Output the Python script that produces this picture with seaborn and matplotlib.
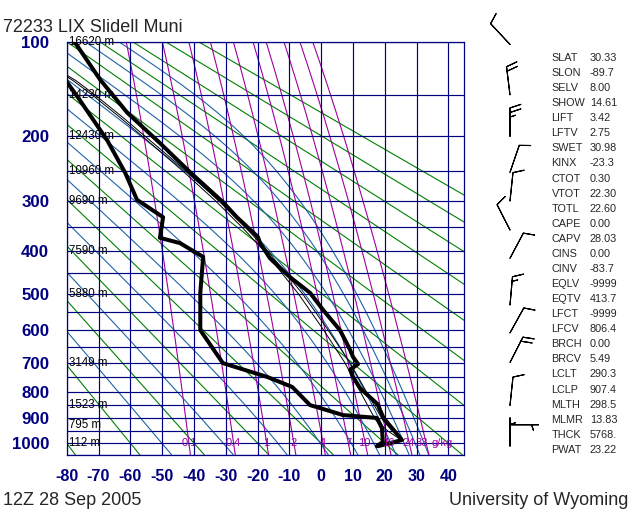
import numpy as np
import pandas as pd
import matplotlib
matplotlib.use("Agg")
import matplotlib.pyplot as plt
import seaborn as sns

# ------------------------------------------------------------------ data
station_title = "72233 LIX Slidell Muni"
obs_time = "12Z 28 Sep 2005"
source_text = "University of Wyoming"

temp_p = [1013, 987, 898, 845, 787, 748, 724, 705, 682, 660, 629, 600, 543, 498,
          459, 415, 382, 369, 330, 302, 252, 209, 170, 134, 100]
temp_T = [17.9, 25.4, 19.6, 17.7, 12.2, 10.0, 9.1, 11.6, 10.0, 9.1, 7.5, 5.9, 0.6, -3.5,
          -9.8, -16.1, -19.2, -19.9, -26.5, -30.9, -41.2, -50.7, -61.0, -69.5, -77.5]

dwpt_p = [1013, 995, 938, 898, 887, 860, 849, 783, 748, 702, 600, 498, 412, 382,
          371, 330, 298, 253, 205, 153, 134]
dwpt_T = [17.5, 19.4, 19.1, 17.5, 6.9, -0.4, -3.5, -9.1, -17.0, -30.9, -38.0, -38.0, -37.1, -44.4,
          -50.7, -49.7, -57.9, -61.6, -67.3, -76.4, -80.5]

parcel_p = [990, 950, 907, 850, 800, 700, 600, 500, 400, 350, 300, 250, 200, 175, 150, 135, 125]
parcel_T = [25.5, 21.0, 17.2, 14.6, 12.3, 7.4, 0.8, -7.2, -17.8, -24.8, -33.2, -43.5, -56.2,
            -63.5, -72.0, -78.0, -83.0]
parcel_tv_p = [990, 950, 907, 850, 800, 700, 600, 500, 400, 350, 300, 250, 200, 175, 150, 135, 125]
parcel_tv_T = [25.5, 22.4, 19.4, 16.7, 14.2, 9.0, 2.2, -5.9, -16.7, -23.8, -32.2, -42.5, -55.3,
               -62.6, -71.1, -77.1, -82.5]

height_p = [100, 150, 200, 250, 300, 400, 500, 700, 850, 925, 1000]
height_lbl = ["16620 m", "14230 m", "12430 m", "10960 m", "9690 m", "7590 m",
              "5880 m", "3149 m", "1523 m", "795 m", "112 m"]

pres_ticks = [100, 200, 300, 400, 500, 600, 700, 800, 900, 1000]
temp_ticks = [-80, -70, -60, -50, -40, -30, -20, -10, 0, 10, 20, 30, 40]

mixr_values = [0.1, 0.4, 1, 2, 4, 7, 10, 16, 24, 33]
mixr_labels = ["0.1", "0.4", "1", "2", "4", "7", "10", "16", "24", "33"]

wind_p = [1013, 925, 850, 700, 608, 530, 415, 355, 300, 252, 200, 150, 102]
wind_dir = [0, 90, 6, 27, 29, 5, 28, 333, 6, 19, 0, 353, 317]
wind_spd = [5, 5, 10, 20, 10, 15, 10, 10, 10, 10, 25, 20, 10]

index_names = ["SLAT", "SLON", "SELV", "SHOW", "LIFT", "LFTV", "SWET", "KINX", "CTOT",
               "VTOT", "TOTL", "CAPE", "CAPV", "CINS", "CINV", "EQLV", "EQTV", "LFCT",
               "LFCV", "BRCH", "BRCV", "LCLT", "LCLP", "MLTH", "MLMR", "THCK", "PWAT"]
index_values = ["30.33", "-89.7", "8.00", "14.61", "3.42", "2.75", "30.98", "-23.3", "0.30",
                "22.30", "22.60", "0.00", "28.03", "0.00", "-83.7", "-9999", "413.7", "-9999",
                "806.4", "0.00", "5.49", "290.3", "907.4", "298.5", "13.83", "5768.", "23.22"]

# ------------------------------------------------------------------ style
sns.set_style("white")
plt.rcParams["font.family"] = ["Liberation Sans", "DejaVu Sans"]
plt.rcParams["axes.unicode_minus"] = False

NAVY = "#000080"
GREEN = "#008000"
MBLUE = "#1f64a8"
PURPLE = "#a000a0"

KAPPA = 0.2857


def pk(p):
    return np.asarray(p, dtype=float) ** KAPPA


# thermodynamics for the diagram's reference lines
Rd, Cp, Lv, EPS = 287.04, 1005.7, 2.501e6, 0.622


def es(tc):
    return 6.112 * np.exp(17.67 * tc / (tc + 243.5))


def rs(tk, p):
    e = es(tk - 273.15)
    return EPS * e / (p - e)


def dTdp(tk, p):
    r = rs(tk, p)
    return (Rd * tk + Lv * r) / (p * (Cp + Lv * Lv * r * EPS / (Rd * tk * tk)))


def theta_e(tk, p):
    r = rs(tk, p) * 1000.0
    return tk * (1000.0 / p) ** (0.2854 * (1 - 0.28e-3 * r)) * \
        np.exp((3.376 / tk - 0.00254) * r * (1 + 0.81e-3 * r))


def integrate(t0, ps):
    out = [t0]
    for i in range(len(ps) - 1):
        p = ps[i]
        h = ps[i + 1] - p
        t = out[-1]
        k1 = dTdp(t, p)
        k2 = dTdp(t + h / 2 * k1, p + h / 2)
        k3 = dTdp(t + h / 2 * k2, p + h / 2)
        k4 = dTdp(t + h * k3, p + h)
        out.append(t + h / 6 * (k1 + 2 * k2 + 2 * k3 + k4))
    return np.array(out)


def moist_adiabat(target):
    lo, hi = 150.0, 330.0
    for _ in range(60):
        mid = 0.5 * (lo + hi)
        if theta_e(mid, 1000.0) > target:
            hi = mid
        else:
            lo = mid
    t0 = 0.5 * (lo + hi)
    up_p = np.arange(1000.0, 99.0, -5.0)
    dn_p = np.arange(1000.0, 1051.0, 5.0)
    up_t = integrate(t0, up_p)
    dn_t = integrate(t0, dn_p)
    p = np.concatenate([dn_p[::-1], up_p[1:]])
    t = np.concatenate([dn_t[::-1], up_t[1:]])
    return p, t - 273.15


# ------------------------------------------------------------------ figure
W, H = 640, 512
fig = plt.figure(figsize=(W / 100, H / 100), dpi=100)
L, R, TOP, BOT = 66.7, 464.3, 42.0, 454.8
ax = fig.add_axes([L / W, 1 - BOT / H, (R - L) / W, (BOT - TOP) / H])
ax.set_xlim(-80, 45)
ax.set_ylim(pk(1050), pk(100))

p_line = np.linspace(100, 1050, 400)

# dry adiabats
for th in np.arange(173.15, 454.0, 20.0):
    ax.plot(th * (p_line / 1000.0) ** KAPPA - 273.15, pk(p_line),
            color=GREEN, lw=0.8, zorder=1)

# moist adiabats
for the in np.arange(223.15, 404.0, 20.0):
    mp, mt = moist_adiabat(the)
    ax.plot(mt, pk(mp), color=MBLUE, lw=0.8, zorder=1)

# mixing ratio lines
mixr_x1000 = []
for w in mixr_values:
    e = w * p_line / (622.0 + w)
    lr = np.log(e / 6.112)
    td = 243.5 * lr / (17.67 - lr)
    ax.plot(td, pk(p_line), color=PURPLE, lw=0.8, zorder=1.2)
    e0 = w * 1000.0 / (622.0 + w)
    l0 = np.log(e0 / 6.112)
    mixr_x1000.append(243.5 * l0 / (17.67 - l0))

# grid
for p in range(100, 1051, 50):
    ax.axhline(pk(p), color=NAVY, lw=0.85, zorder=2)
for t in range(-80, 41, 10):
    ax.axvline(t, color=NAVY, lw=0.85, zorder=2)
for s in ax.spines.values():
    s.set_color(NAVY)
    s.set_linewidth(0.9)

# profiles
df_t = pd.DataFrame({"T": temp_T, "y": pk(temp_p)})
df_d = pd.DataFrame({"T": dwpt_T, "y": pk(dwpt_p)})
df_pa = pd.DataFrame({"T": parcel_T, "y": pk(parcel_p)})
df_pv = pd.DataFrame({"T": parcel_tv_T, "y": pk(parcel_tv_p)})
for d, lw in [(df_pa, 0.7), (df_pv, 0.7), (df_d, 2.9), (df_t, 2.9)]:
    sns.lineplot(data=d, x="T", y="y", sort=False, estimator=None, color="black",
                 lw=lw, ax=ax, legend=False, zorder=4)
ax.set_xlabel("")
ax.set_ylabel("")

# ticks
ax.set_yticks(pk(pres_ticks))
ax.set_yticklabels([str(p) for p in pres_ticks])
ax.set_xticks(temp_ticks)
ax.set_xticklabels([str(t) for t in temp_ticks])
ax.tick_params(axis="both", length=0, labelcolor=NAVY)
ax.tick_params(axis="y", pad=12.5, labelsize=12.2)
ax.tick_params(axis="x", pad=10.5, labelsize=11.6)
for lab in ax.get_xticklabels() + ax.get_yticklabels():
    lab.set_fontweight("bold")

# height labels
for p, s in zip(height_p, height_lbl):
    ax.text(-79.4, pk(p), s, fontsize=8.3, color="black", ha="left", va="center",
            zorder=5)

# mixing ratio labels (the last ones are crowded, nudge them apart slightly)
nudge = [0, 0, 0, 0, 0, 0, -0.3, 0, -0.2, -1.3]
for x, s, dx in zip(mixr_x1000, mixr_labels, nudge):
    ax.text(x + dx, pk(1000), s, fontsize=8.0, color=PURPLE, ha="center", va="center",
            zorder=5)
ax.text(mixr_x1000[-1] + 1.6, pk(1000), "g/kg", fontsize=8.0, color=PURPLE,
        ha="left", va="center", zorder=5)

# wind barbs
bax = fig.add_axes([470 / W, 1 - BOT / H, 80 / W, (BOT - TOP) / H])
bax.set_xlim(0, 80)
bax.set_ylim(pk(1050), pk(100))
bax.axis("off")
rad = np.deg2rad(wind_dir)
spd = np.asarray(wind_spd, dtype=float)
u = -spd * np.sin(rad)
v = -spd * np.cos(rad)
bb = bax.barbs(np.full(len(wind_p), 40.0), pk(wind_p), u, v, length=6.4,
               linewidth=0.8, color="black",
               sizes=dict(spacing=0.16, height=0.38))
bb.set_clip_on(False)

# text
fig.text(3 / W, 1 - 31.5 / H, station_title, fontsize=13, va="baseline", ha="left")
fig.text(3 / W, 1 - 505 / H, obs_time, fontsize=13, va="baseline", ha="left")
fig.text(628 / W, 1 - 505 / H, source_text, fontsize=13, va="baseline", ha="right")

for i, (n, val) in enumerate(zip(index_names, index_values)):
    yb = 1 - (61.0 + 15.07 * i) / H
    fig.text(551.5 / W, yb, n, fontsize=7.8, va="baseline", ha="left")
    fig.text(590.0 / W, yb, val, fontsize=7.8, va="baseline", ha="left")

fig.savefig("out.png", dpi=100)
